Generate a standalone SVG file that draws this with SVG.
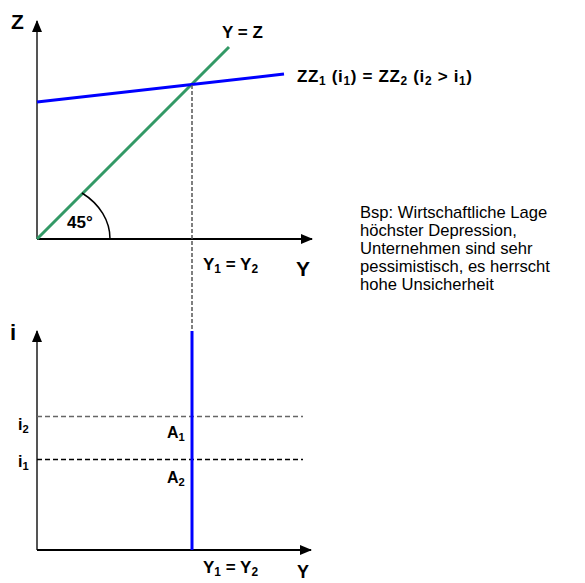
<svg xmlns="http://www.w3.org/2000/svg" width="585" height="583" viewBox="0 0 585 583">
<defs>
<style>
.lbl{font-family:"Liberation Sans",Arial,sans-serif;font-weight:bold;fill:#000}
.desc{font-family:"Liberation Sans",Arial,sans-serif;font-size:16.6px;fill:#000}
.axis{stroke:#000;stroke-width:2;fill:none}
.vaxis{stroke:#555;stroke-width:2;fill:none}
.sub{font-size:70%}
</style>
<marker id="ah" viewBox="0 0 12 10" refX="11" refY="5" markerWidth="12" markerHeight="10" markerUnits="userSpaceOnUse" orient="auto">
<path d="M0,0 L12,5 L0,10 Z" fill="#000"/>
</marker>
</defs>
<rect width="585" height="583" fill="#fff"/>

<g id="connectors">
<line class="vaxis" x1="37" y1="239" x2="37" y2="21" marker-end="url(#ah)"/>
<line class="axis" x1="37" y1="239" x2="312" y2="239" marker-end="url(#ah)"/>
<line x1="37" y1="239" x2="229" y2="47" stroke="#339966" stroke-width="3"/>
<line x1="37" y1="102" x2="284" y2="74" stroke="#0000ff" stroke-width="3"/>
<path d="M82,193 A73,58 0 0 1 110,239" fill="none" stroke="#000" stroke-width="1.5"/>
<line x1="192" y1="85" x2="192" y2="331" stroke="#555" stroke-width="1.5" stroke-dasharray="4,2"/>
<line class="vaxis" x1="37" y1="550" x2="37" y2="331" marker-end="url(#ah)"/>
<line class="axis" x1="37" y1="550" x2="311" y2="550" marker-end="url(#ah)"/>
<line x1="37" y1="416.5" x2="303" y2="416.5" stroke="#666" stroke-width="1.5" stroke-dasharray="5,3"/>
<line x1="37" y1="459.5" x2="303" y2="459.5" stroke="#000" stroke-width="1.5" stroke-dasharray="5,3"/>
<line x1="192" y1="331" x2="192" y2="550" stroke="#0000ff" stroke-width="3"/>
</g>

<g id="top-labels">
<text class="lbl" x="11" y="29" font-size="21">Z</text>
<text class="lbl" x="222" y="38" font-size="17">Y = Z</text>
<text class="lbl" x="297" y="82" font-size="17" textLength="175" lengthAdjust="spacing">ZZ<tspan class="sub" dy="3">1</tspan><tspan dy="-3"> (i</tspan><tspan class="sub" dy="3">1</tspan><tspan dy="-3">) = ZZ</tspan><tspan class="sub" dy="3">2</tspan><tspan dy="-3"> (i</tspan><tspan class="sub" dy="3">2</tspan><tspan dy="-3"> &gt; i</tspan><tspan class="sub" dy="3">1</tspan><tspan dy="-3">)</tspan></text>
<text class="lbl" x="67" y="228" font-size="17">45°</text>
<text class="lbl" x="203" y="270" font-size="17">Y<tspan class="sub" dy="3">1</tspan><tspan dy="-3"> = Y</tspan><tspan class="sub" dy="3">2</tspan></text>
<text class="lbl" x="296" y="276" font-size="21">Y</text>
</g>

<g id="description">
<text class="desc" x="360" y="218">Bsp: Wirtschaftliche Lage</text>
<text class="desc" x="360" y="236">höchster Depression,</text>
<text class="desc" x="360" y="254">Unternehmen sind sehr</text>
<text class="desc" x="360" y="272">pessimistisch, es herrscht</text>
<text class="desc" x="360" y="290">hohe Unsicherheit</text>
</g>

<g id="bottom-labels">
<text class="lbl" x="10" y="340" font-size="22">i</text>
<text class="lbl" x="18" y="430" font-size="16">i<tspan class="sub" dy="3">2</tspan></text>
<text class="lbl" x="18" y="467" font-size="16">i<tspan class="sub" dy="3">1</tspan></text>
<text class="lbl" x="167" y="438" font-size="16">A<tspan class="sub" dy="3">1</tspan></text>
<text class="lbl" x="167" y="483" font-size="16">A<tspan class="sub" dy="3">2</tspan></text>
<text class="lbl" x="203" y="573" font-size="17">Y<tspan class="sub" dy="3">1</tspan><tspan dy="-3"> = Y</tspan><tspan class="sub" dy="3">2</tspan></text>
<text class="lbl" x="297" y="578" font-size="18">Y</text>
</g>
</svg>
